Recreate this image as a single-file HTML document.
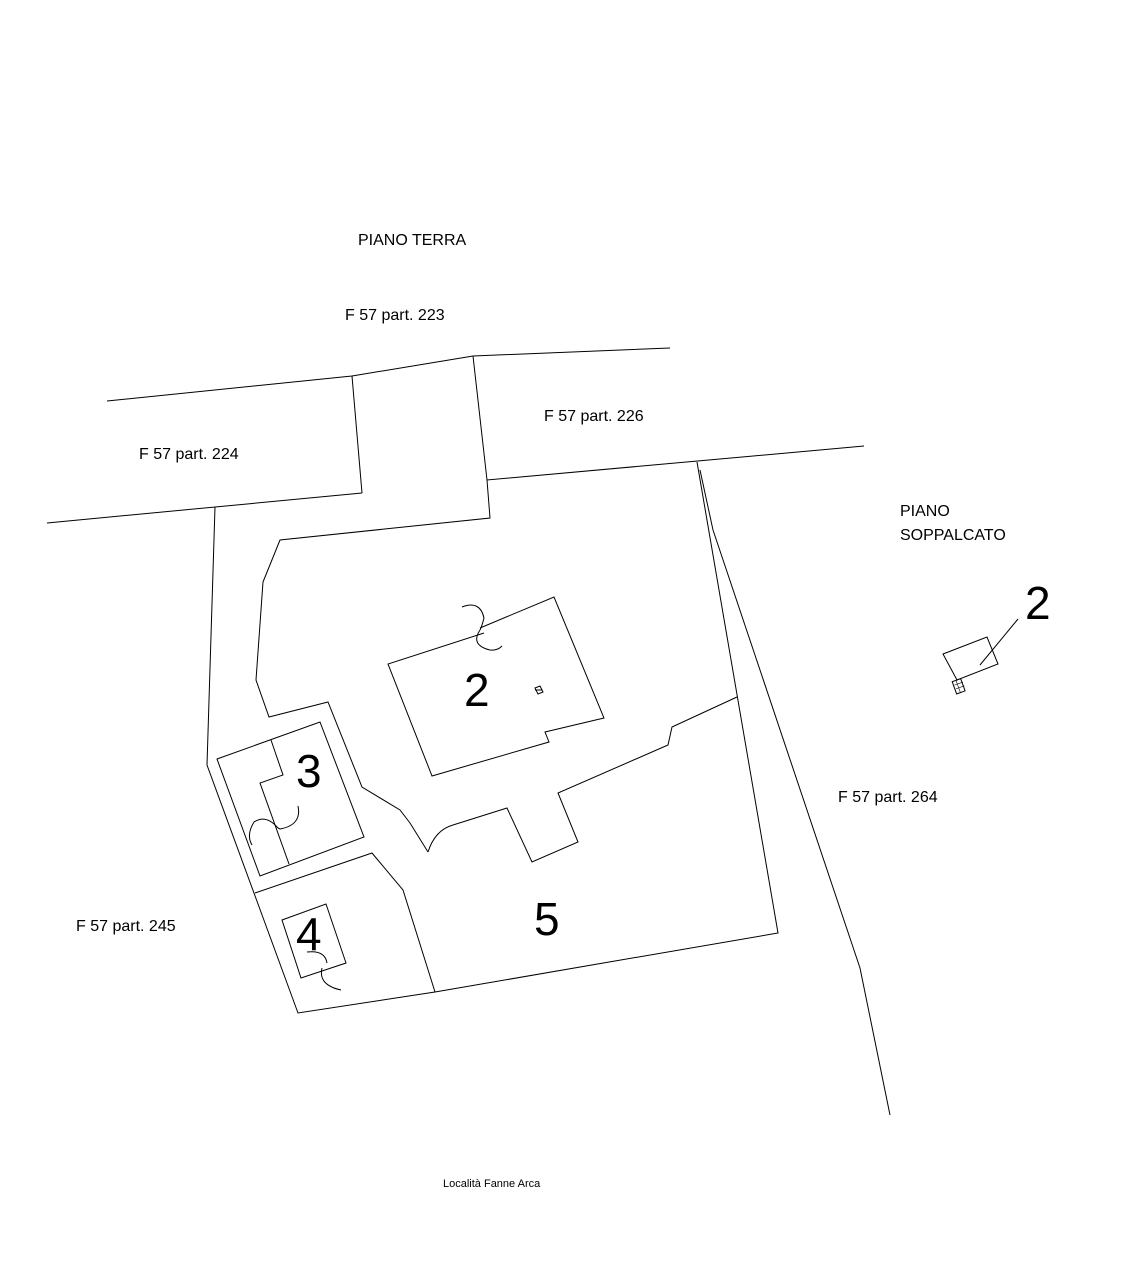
<!DOCTYPE html>
<html><head><meta charset="utf-8"><style>
body{margin:0;background:#fff}
svg{display:block}
text{font-family:"Liberation Sans",Arial,sans-serif;fill:#000}
</style></head><body>
<svg width="1126" height="1281" viewBox="0 0 1126 1281" xmlns="http://www.w3.org/2000/svg">
<g fill="none" stroke="#000" stroke-width="1">
<polyline points="107,401 352,376 473,356 670,348"/>
<line x1="352" y1="376" x2="362" y2="493"/>
<line x1="47" y1="523" x2="362" y2="493"/>
<polyline points="473,356 487,480 864,446"/>
<polyline points="487,480 490,518 280,540 263,582 256,680 269,717 328,702 362,787 400,810 410,823 428,852"/>
<path d="M428,852 Q435,830 453,825 L507,808 L532,862 L578,842 L558,793 L668,745 L672,727 L737,697"/>
<polyline points="697,462 778,933 435,992 298,1013 207,765 215,507"/>
<polyline points="700,470 713,530 860,968 890,1115"/>
<!-- building 2 -->
<polyline points="484,633 388,664 432,776 549,742 545,732 604,718 554,597 480,628"/>
<path d="M462,607 Q480,600 484,618 Q482,626 480,630"/>
<path d="M480,630 Q470,645 490,650 Q497,651 502,646"/>
<!-- building 3 -->
<polygon points="217,759 320,722 364,837 260,876"/>
<polyline points="271,740 283,775 260,783 289,864"/>
<path d="M298,806 Q302,825 280,829 L278,828"/>
<path d="M278,828 Q266,814 254,822 Q246,835 252,845"/>
<!-- 4 area -->
<polyline points="255,893 372,853 403,890 435,992"/>
<polygon points="282,920 326,904 346,963 301,978"/>
<path d="M307,952 Q325,950 327,963"/>
<path d="M322,968 Q318,985 341,990"/>
<!-- right small -->
<polygon points="943,654 987,637 998,664 957,680"/>
<line x1="1018" y1="619" x2="980" y2="665"/>
<rect x="954" y="680" width="9" height="13" transform="rotate(-20 958 686)"/>
<path d="M955,684h9M955,688h9M958,680v13" stroke-width="0.6" transform="rotate(-20 958 686)"/>
<path d="M535,688 l5,-2 l3,6 l-5,2z M535,690 h7"/>
</g>
<g font-size="16">
<text x="358" y="245">PIANO TERRA</text>
<text x="345" y="320">F 57 part. 223</text>
<text x="544" y="421">F 57 part. 226</text>
<text x="139" y="459">F 57 part. 224</text>
<text x="900" y="516">PIANO</text>
<text x="900" y="540">SOPPALCATO</text>
<text x="838" y="802">F 57 part. 264</text>
<text x="76" y="931">F 57 part. 245</text>
</g>
<g font-size="46">
<text x="464" y="706">2</text>
<text x="296" y="787">3</text>
<text x="296" y="950">4</text>
<text x="534" y="935">5</text>
<text x="1025" y="619">2</text>
</g>
<text x="443" y="1187" font-size="11">Località Fanne Arca</text>
</svg>
</body></html>
